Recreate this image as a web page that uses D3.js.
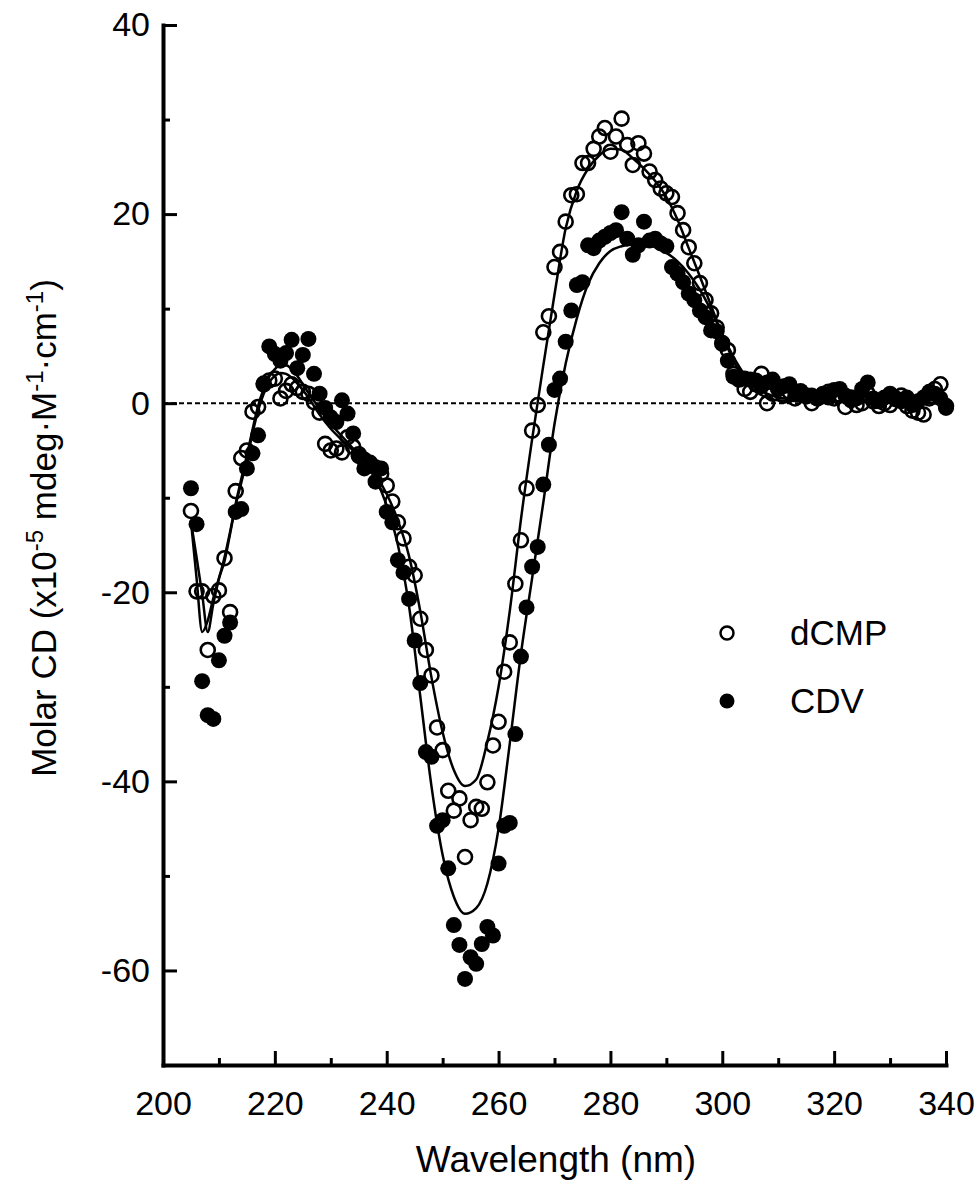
<!DOCTYPE html>
<head>
  <meta charset="utf-8">
  <script src="https://cdnjs.cloudflare.com/ajax/libs/d3/7.8.5/d3.min.js"></script>
  <style>
    body { margin:0; background:#fff; }
    text { font-family: "Liberation Sans", Arial, sans-serif; fill:#000; }
  </style>
</head>

<body>
  <div id="vis"></div>

  <script>
    // measured points, 1 nm steps
    var wavelength = [205,206,207,208,209,210,211,212,213,214,215,216,217,218,219,220,
      221,222,223,224,225,226,227,228,229,230,231,232,233,234,235,236,237,238,239,240,
      241,242,243,244,245,246,247,248,249,250,251,252,253,254,255,256,257,258,259,260,
      261,262,263,264,265,266,267,268,269,270,271,272,273,274,275,276,277,278,279,280,
      281,282,283,284,285,286,287,288,289,290,291,292,293,294,295,296,297,298,299,300,
      301,302,303,304,305,306,307,308,309,310,311,312,313,314,315,316,317,318,319,320,
      321,322,323,324,325,326,327,328,329,330,331,332,333,334,335,336,337,338,339,340];

    var dcmp = [-11.4,-19.9,-19.9,-26.1,-20.4,-19.8,-16.4,-22.1,-9.3,-5.8,-5.0,-0.9,-0.4,2.0,2.4,2.6,
      0.5,1.3,2.0,1.6,1.2,1.0,0.1,-1.0,-4.3,-5.0,-4.8,-5.2,-3.6,-4.6,-5.4,-6.0,-6.3,-6.8,-7.5,-8.7,
      -10.4,-12.6,-14.3,-17.3,-18.2,-22.8,-26.1,-28.8,-34.3,-36.7,-41.0,-43.1,-41.8,-48.0,-44.1,-42.7,-42.9,-40.1,-36.2,-33.7,
      -28.4,-25.3,-19.1,-14.5,-9.0,-2.9,-0.2,7.5,9.2,14.4,16.0,19.2,22.0,22.1,25.4,25.4,26.9,28.2,29.1,26.6,
      28.2,30.1,27.3,25.2,27.5,26.4,24.5,23.6,22.7,22.2,21.8,20.1,18.3,16.5,14.8,12.7,10.9,9.5,8.0,6.3,
      5.6,3.1,2.5,1.5,1.2,2.0,3.1,0.0,1.0,1.5,0.8,1.2,0.5,1.0,0.8,0.0,0.5,0.8,1.2,0.5,
      0.9,-0.4,0.6,-0.2,0.0,1.0,0.2,-0.3,0.0,-0.2,0.5,0.8,-0.3,-0.8,-1.0,-1.2,0.5,1.5,2.0,-0.3];

    var cdv = [-9.0,-12.8,-29.4,-33.0,-33.4,-27.2,-24.6,-23.2,-11.5,-11.2,-6.9,-5.3,-3.4,2.1,6.0,5.2,
      4.5,5.3,6.7,3.7,5.1,6.8,3.1,1.0,-0.5,-1.5,-2.0,0.3,-1.1,-3.2,-5.6,-6.9,-6.5,-8.3,-6.9,-11.5,
      -12.6,-16.6,-17.9,-20.7,-25.1,-29.6,-36.9,-37.4,-44.7,-44.1,-49.2,-55.2,-57.3,-60.9,-58.6,-59.3,-57.2,-55.4,-56.3,-48.7,
      -44.7,-44.4,-35.0,-26.8,-21.6,-17.3,-15.2,-8.6,-4.4,1.4,2.6,6.5,9.8,12.5,12.8,16.7,16.4,17.2,17.6,18.0,
      18.3,20.2,17.4,15.7,16.7,19.2,17.2,17.4,16.9,16.6,14.4,13.7,12.8,11.6,10.9,9.8,9.1,7.7,7.6,6.4,
      4.5,2.8,2.7,2.6,2.5,2.4,1.8,2.2,2.5,1.5,1.8,2.0,1.2,1.3,0.7,0.8,0.5,1.0,0.6,1.4,
      1.5,0.8,0.3,0.5,1.5,2.2,0.5,0.2,0.6,1.0,0.4,0.2,0.6,-0.2,0.2,0.6,1.2,1.0,0.5,-0.5];

    // fitted curves
    var fitWavelength = [205,206,207,208,209,210,211,212,213,214,215,216,217,218,219,220,221,222,223,224,225,226,
      228,230,232,234,236,238,240,242,244,246,248,250,252,254,256,258,260,262,264,266,268,270,272,274,276,278,
      280,282,284,286,288,290,292,294,296,298,300,302,304,306,308,310,315,320,330,340];

    var dcmpFit = [-12.5,-18.5,-24.2,-23.0,-20.6,-18.5,-16.7,-13.8,-10.8,-8.4,-6.0,-3.2,-0.8,1.0,2.2,2.9,3.2,3.1,2.7,2.1,1.4,0.6,
      -1.2,-2.7,-3.9,-5.0,-6.1,-7.6,-9.6,-12.4,-16.2,-22.0,-29.0,-34.8,-38.8,-40.5,-39.8,-35.8,-30.0,-22.0,-12.3,-3.8,4.0,11.5,18.5,22.5,24.8,26.2,
      26.9,26.8,25.9,24.8,23.5,21.8,19.4,16.4,13.4,10.3,7.2,4.5,2.4,1.2,0.6,0.3,0.2,0.1,0.1,0.0];

    var cdvFit = [-12.5,-16.3,-20.2,-24.2,-21.2,-18.6,-16.3,-13.6,-10.6,-8.0,-5.5,-2.8,-0.3,1.5,2.8,3.6,4.0,4.0,3.6,2.9,2.0,1.1,
      -0.6,-2.2,-3.5,-4.8,-6.2,-8.0,-10.8,-15.0,-21.5,-31.0,-40.5,-47.8,-52.2,-54.0,-53.4,-50.8,-45.0,-36.0,-26.5,-18.5,-10.5,-2.2,4.2,9.0,12.6,14.8,
      16.1,16.6,16.8,16.8,16.5,15.9,15.0,13.7,12.0,9.8,7.3,4.9,3.0,1.7,1.0,0.6,0.3,0.2,0.1,0.0];

    var xTicks = [200,220,240,260,280,300,320,340];
    var xMinor = [210,230,250,270,290,310,330];
    var yTicks = [-60,-40,-20,0,20,40];
    var yMinor = [-50,-30,-10,10,30];
    var legendNames = ["dCMP","CDV"];

    var width = 978, height = 1184;
    var svg = d3.select("#vis").append("svg")
      .attr("width", width)
      .attr("height", height)

    var x = d3.scaleLinear().domain([200, 340]).range([163, 946]);
    var y = d3.scaleLinear().domain([-70, 40]).range([1065, 25]);

    // zero line
    svg.append("line")
      .attr("x1", x(200)).attr("x2", x(340))
      .attr("y1", y(0)).attr("y2", y(0))
      .style("stroke", "#000")
      .style("stroke-width", 2)
      .style("stroke-dasharray", "5,3");

    // fitted lines
    var line = d3.line()
      .x(function(d) { return x(d[0]); })
      .y(function(d) { return y(d[1]); })
      .curve(d3.curveMonotoneX);

    [dcmpFit, cdvFit].forEach(function(fit) {
      svg.append("path")
        .datum(fitWavelength.map(function(w, i) { return [w, fit[i]]; }))
        .attr("d", line)
        .style("fill", "none")
        .style("stroke", "#000")
        .style("stroke-width", 2.5);
    });

    // points
    svg.append("g").selectAll("circle")
      .data(wavelength.map(function(w, i) { return [w, cdv[i]]; }))
      .enter().append("circle")
      .attr("cx", function(d) { return x(d[0]); })
      .attr("cy", function(d) { return y(d[1]); })
      .attr("r", 8)
      .style("fill", "#000");

    svg.append("g").selectAll("circle")
      .data(wavelength.map(function(w, i) { return [w, dcmp[i]]; }))
      .enter().append("circle")
      .attr("cx", function(d) { return x(d[0]); })
      .attr("cy", function(d) { return y(d[1]); })
      .attr("r", 7)
      .style("fill", "none")
      .style("stroke", "#000")
      .style("stroke-width", 2.6);

    // axes
    svg.append("g")
      .attr("transform", "translate(" + x(200) + ",0)")
      .call(d3.axisLeft(y).tickValues(yTicks).tickSizeInner(-14).tickSizeOuter(0)
        .tickPadding(13).tickFormat(function(d) { return String(d); }));
    svg.append("g")
      .attr("transform", "translate(" + x(200) + ",0)")
      .call(d3.axisLeft(y).tickValues(yMinor).tickSizeInner(-7).tickSizeOuter(0).tickFormat(""))
      .select(".domain").remove();

    svg.append("g")
      .attr("transform", "translate(0," + y(-70) + ")")
      .call(d3.axisBottom(x).tickValues(xTicks).tickSizeInner(-14).tickSizeOuter(0)
        .tickPadding(26).tickFormat(function(d) { return String(d); }));
    svg.append("g")
      .attr("transform", "translate(0," + y(-70) + ")")
      .call(d3.axisBottom(x).tickValues(xMinor).tickSizeInner(-7).tickSizeOuter(0).tickFormat(""))
      .select(".domain").remove();

    svg.selectAll(".domain").style("stroke-width", 4).style("stroke-linecap", "square");
    svg.selectAll(".tick line").style("stroke-width", 3);
    svg.selectAll(".tick text")
      .style("font-size", "34px")
      .style("font-family", '"Liberation Sans", Arial, sans-serif');

    // axis titles
    svg.append("text")
      .attr("x", 556).attr("y", 1172)
      .attr("text-anchor", "middle")
      .style("font-size", "37px")
      .text("Wavelength (nm)");

    var yTitle = svg.append("text")
      .attr("transform", "translate(56,528) rotate(-90)")
      .attr("text-anchor", "middle")
      .style("font-size", "35px");
    yTitle.append("tspan").text("Molar CD (x10");
    yTitle.append("tspan").attr("baseline-shift", "super").style("font-size", "24px").text("-5");
    yTitle.append("tspan").text(" mdeg\u00b7M");
    yTitle.append("tspan").attr("baseline-shift", "super").style("font-size", "24px").text("-1");
    yTitle.append("tspan").text("\u00b7cm");
    yTitle.append("tspan").attr("baseline-shift", "super").style("font-size", "24px").text("-1");
    yTitle.append("tspan").text(")");

    // legend
    var legend = svg.append("g").selectAll("g")
      .data(legendNames)
      .enter().append("g")
      .attr("transform", function(d, i) { return "translate(727," + (633 + i * 68) + ")"; });
    legend.append("circle")
      .attr("r", function(d, i) { return i == 0 ? 6.5 : 7.5; })
      .style("fill", function(d, i) { return i == 0 ? "none" : "#000"; })
      .style("stroke", function(d, i) { return i == 0 ? "#000" : "none"; })
      .style("stroke-width", 2.5);
    legend.append("text")
      .attr("x", 63).attr("y", 12)
      .style("font-size", "35px")
      .text(function(d) { return d; });
  </script>
</body>
